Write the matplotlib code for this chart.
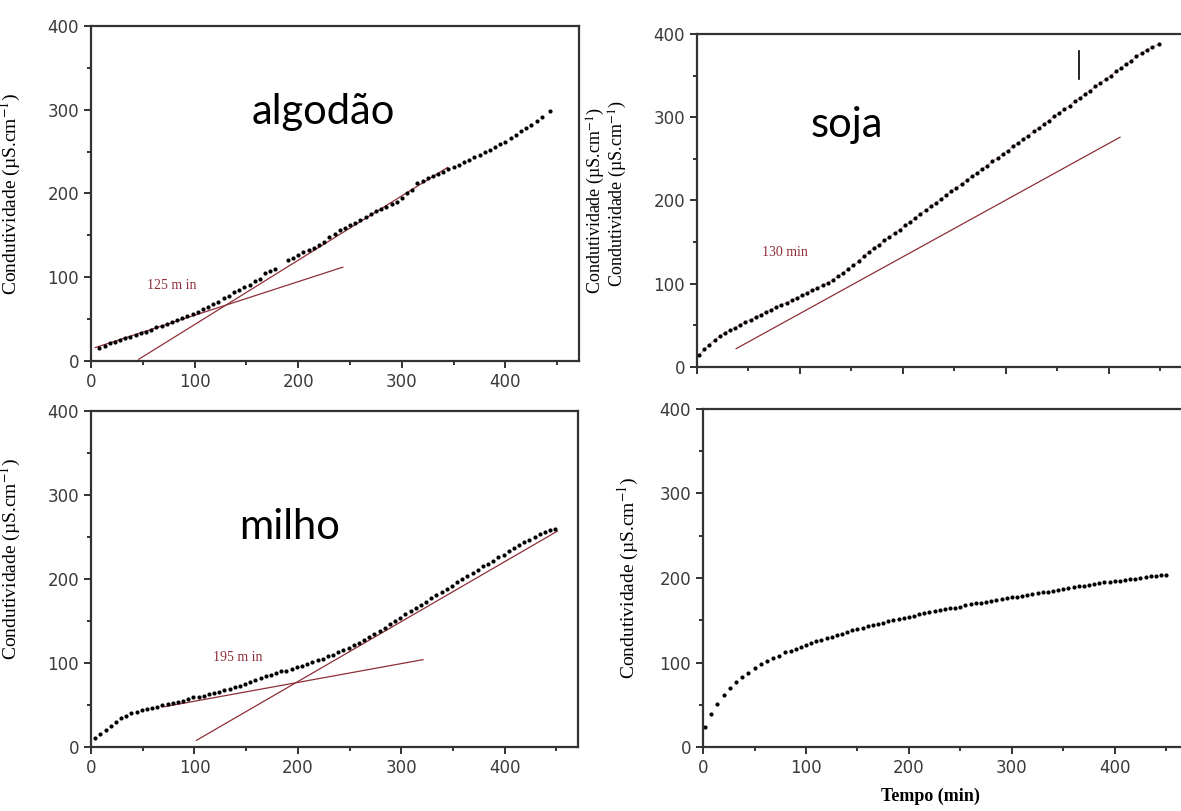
import matplotlib
matplotlib.use("Agg")
import matplotlib.pyplot as plt
from matplotlib.ticker import MultipleLocator

plt.rcParams['mathtext.fontset'] = 'stix'
plt.rcParams['font.family'] = 'DejaVu Sans'

# algodão
alg_t = [8, 13, 18, 23, 28, 33, 38, 43, 48, 53, 58, 63, 68, 73, 78, 83, 88, 93, 98, 103,
         108, 113, 118, 123, 128, 133, 138, 143, 148, 153, 158, 163, 168, 173, 178, 190, 195,
         200, 205, 210, 215, 220, 225, 230, 235, 240, 245, 250, 255, 260, 265, 270, 275, 280,
         285, 290, 295, 300, 305, 310, 315, 320, 325, 330, 335, 340, 345, 350, 355, 360, 365,
         370, 375, 380, 385, 390, 395, 400, 405, 410, 415, 420, 425, 430, 435, 443]
alg_c = [15, 18, 21, 23, 25, 27, 29, 31, 33, 35, 37, 40, 42, 44, 46, 49, 51, 54, 56, 59,
         62, 65, 68, 71, 75, 78, 82, 85, 88, 91, 95, 98, 105, 107, 110, 120, 123,
         126, 130, 132, 135, 138, 142, 148, 152, 156, 159, 162, 165, 168, 172, 176, 179, 181,
         184, 187, 190, 195, 200, 204, 213, 215, 218, 221, 223, 226, 229, 232, 234, 237, 240,
         243, 246, 249, 252, 255, 259, 262, 266, 270, 274, 278, 282, 287, 291, 299]
alg_fit1_t = [4, 243]
alg_fit1_c = [16, 112]
alg_fit2_t = [46, 344]
alg_fit2_c = [2, 231]

# soja
soja_t = [2, 7, 12, 17, 22, 27, 32, 37, 42, 47, 52, 57, 62, 67, 72, 77, 82, 87, 92, 97,
          102, 107, 112, 117, 122, 127, 132, 137, 142, 147, 152, 157, 162, 167, 172, 177, 182,
          187, 192, 197, 202, 207, 212, 217, 222, 227, 232, 237, 242, 247, 252, 257, 262, 267,
          272, 277, 282, 287, 292, 297, 302, 307, 312, 317, 322, 327, 332, 337, 342, 347, 352,
          357, 362, 367, 372, 377, 382, 387, 392, 397, 402, 407, 412, 417, 422, 427, 432, 437,
          442, 449]
soja_c = [14, 21, 27, 32, 37, 41, 44, 47, 51, 54, 57, 60, 63, 66, 69, 72, 75, 77, 80, 83,
          86, 89, 92, 95, 98, 101, 105, 109, 113, 118, 122, 127, 133, 138, 143, 147, 152,
          156, 161, 165, 170, 174, 179, 184, 188, 193, 197, 202, 206, 211, 215, 220, 224, 229,
          233, 238, 242, 247, 251, 256, 260, 265, 269, 274, 278, 283, 287, 292, 296, 301, 305,
          310, 314, 319, 323, 328, 332, 337, 341, 346, 350, 355, 359, 364, 368, 373, 377, 381,
          384, 388]
soja_fit1_t = [38, 411]
soja_fit1_c = [22, 276]
soja_mark_t = [371, 371]
soja_mark_c = [346, 380]

# milho
milho_t = [4, 9, 14, 19, 24, 29, 34, 39, 44, 49, 54, 59, 64, 69, 74, 79, 84, 89, 94, 99,
           104, 109, 114, 119, 124, 129, 134, 139, 144, 149, 154, 159, 164, 169, 174, 179, 184,
           189, 194, 199, 204, 209, 214, 219, 224, 229, 234, 239, 244, 249, 254, 259, 264, 269,
           274, 279, 284, 289, 294, 299, 304, 309, 314, 319, 324, 329, 334, 339, 344, 349, 354,
           359, 364, 369, 374, 379, 384, 389, 394, 399, 404, 409, 414, 419, 424, 429, 434, 439,
           444, 449]
milho_c = [11, 15, 20, 25, 30, 34, 37, 40, 42, 44, 45, 47, 48, 50, 51, 52, 54, 55, 57, 59,
           60, 61, 63, 64, 66, 68, 69, 71, 73, 75, 77, 80, 82, 84, 86, 88, 90,
           91, 93, 95, 97, 99, 101, 103, 105, 108, 110, 113, 116, 118, 121, 124, 127, 131,
           134, 138, 142, 146, 150, 154, 158, 162, 165, 169, 173, 177, 181, 184, 188, 192, 196,
           200, 204, 207, 211, 215, 218, 222, 226, 229, 233, 237, 240, 244, 247, 250, 253, 256,
           258, 260]
milho_fit1_t = [71, 321]
milho_fit1_c = [48, 104]
milho_fit2_t = [102, 451]
milho_fit2_c = [8, 257]

# quarta amostra
q_t = [2, 8, 14, 20, 26, 32, 38, 44, 50, 56, 62, 68, 74, 80, 85, 90, 95, 100, 105, 110,
       115, 120, 125, 130, 135, 140, 145, 150, 155, 160, 165, 170, 175, 180, 185, 190, 195,
       200, 205, 210, 215, 220, 225, 230, 235, 240, 245, 250, 255, 260, 265, 270, 275, 280,
       285, 290, 295, 300, 305, 310, 315, 320, 325, 330, 335, 340, 345, 350, 355, 360, 365,
       370, 375, 380, 385, 390, 395, 400, 405, 410, 415, 420, 425, 430, 435, 440, 445, 450]
q_c = [24, 39, 51, 61, 70, 77, 83, 88, 93, 98, 102, 105, 108, 112, 114, 116, 118, 121, 123, 125,
       127, 129, 130, 132, 134, 136, 138, 140, 141, 143, 144, 146, 147, 149, 150, 152, 153,
       154, 155, 157, 158, 160, 161, 162, 163, 164, 165, 166, 168, 169, 170, 171, 172, 173,
       174, 175, 176, 177, 178, 179, 180, 181, 182, 183, 184, 185, 186, 187, 188, 189, 190,
       191, 192, 193, 194, 195, 195, 196, 197, 198, 199, 199, 200, 201, 202, 202, 203, 204]

ylab = 'Condutividade (µS.cm$^{-1}$)'
red = '#8e2f38'
serif = 'Liberation Serif'

fig = plt.figure(figsize=(11.81, 8.11), dpi=100)


def style(ax, xmax, xlabels=True):
    ax.set_xlim(0, xmax)
    ax.set_ylim(0, 400)
    ax.xaxis.set_major_locator(MultipleLocator(100))
    ax.xaxis.set_minor_locator(MultipleLocator(50))
    ax.yaxis.set_major_locator(MultipleLocator(100))
    ax.yaxis.set_minor_locator(MultipleLocator(50))
    ax.tick_params(which='both', direction='out', top=False, right=False,
                   width=1.4, color='#333333', labelsize=12, labelcolor='#3a3a3a')
    ax.tick_params(which='major', length=5)
    ax.tick_params(which='minor', length=3)
    if not xlabels:
        ax.tick_params(axis='x', labelbottom=False)
    for s in ax.spines.values():
        s.set_linewidth(1.6)
        s.set_color('#333333')


def dots(ax, t, c):
    ax.plot(t, c, 'o', color='black', ms=3.0, mew=0)


# algodão
ax1 = fig.add_axes([0.0771, 0.5549, 0.4132, 0.4131])
style(ax1, 471)
ax1.plot(alg_fit1_t, alg_fit1_c, color=red, lw=0.9)
ax1.plot(alg_fit2_t, alg_fit2_c, color=red, lw=0.9)
dots(ax1, alg_t, alg_c)
ax1.text(224, 297, 'algodão', fontsize=30, family='Lato', ha='center', va='center')
ax1.text(78, 90, '125 m in', fontsize=10, family=serif, color=red, ha='center', va='center')
ax1.set_ylabel(ylab, fontsize=14, family=serif)
ax1.yaxis.set_label_coords(-0.14, 0.5)

# soja
ax2 = fig.add_axes([0.5902, 0.5475, 0.4183, 0.4106])
style(ax2, 480, xlabels=False)
ax2.plot(soja_fit1_t, soja_fit1_c, color=red, lw=0.9)
ax2.plot(soja_t, soja_c, color=red, lw=0.8, alpha=0.4)
dots(ax2, soja_t, soja_c)
ax2.plot(soja_mark_t, soja_mark_c, color='black', lw=1.2)
ax2.text(146, 291, 'soja', fontsize=30, family='Lato', ha='center', va='center')
ax2.text(85, 138, '130 min', fontsize=10, family=serif, color=red, ha='center', va='center')
ax2.set_ylabel(ylab, fontsize=13, family=serif)
ax2.yaxis.set_label_coords(-0.138, 0.52)
ax2.text(-0.205, 0.5, ylab, fontsize=13, family=serif, rotation=90,
         ha='center', va='center', transform=ax2.transAxes)

# milho
ax3 = fig.add_axes([0.0771, 0.0789, 0.4124, 0.4143])
style(ax3, 471)
ax3.plot(milho_fit1_t, milho_fit1_c, color=red, lw=0.9)
ax3.plot(milho_fit2_t, milho_fit2_c, color=red, lw=0.9)
dots(ax3, milho_t, milho_c)
ax3.text(192, 262, 'milho', fontsize=30, family='Lato', ha='center', va='center')
ax3.text(142, 106, '195 m in', fontsize=10, family=serif, color=red, ha='center', va='center')
ax3.set_ylabel(ylab, fontsize=14, family=serif)
ax3.yaxis.set_label_coords(-0.14, 0.56)

# quarta amostra
ax4 = fig.add_axes([0.5953, 0.0789, 0.4183, 0.4168])
style(ax4, 480)
dots(ax4, q_t, q_c)
ax4.set_ylabel(ylab, fontsize=14, family=serif)
ax4.yaxis.set_label_coords(-0.125, 0.5)
ax4.set_xlabel('Tempo (min)', fontsize=13, family=serif, fontweight='bold')
ax4.xaxis.set_label_coords(0.46, -0.12)

fig.savefig('out.png', dpi=100)
